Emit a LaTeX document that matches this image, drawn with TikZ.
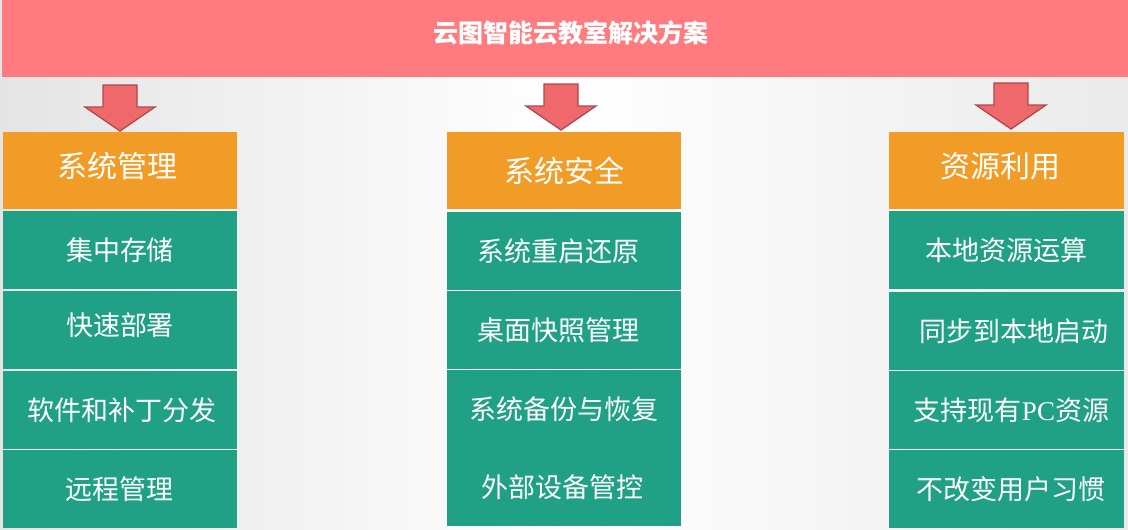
\documentclass[tikz,border=0pt]{standalone}
\usepackage{fontspec}
\setmainfont{Noto Sans CJK SC}
\newfontfamily\pcfont{Liberation Serif}
\definecolor{bannerc}{HTML}{FF7B7F}
\definecolor{hdrc}{HTML}{F29C28}
\definecolor{itmc}{HTML}{20A084}
\definecolor{arrfill}{HTML}{EF686B}
\definecolor{arrline}{HTML}{B0484C}
\definecolor{bgleft}{HTML}{E4E4E4}
\definecolor{bgright}{HTML}{EAEAEA}
\begin{document}
\begin{tikzpicture}[x=1pt,y=-1pt,
  boxbase/.style={inner sep=0pt, outer sep=0pt, text=white, anchor=north west, align=center},
  hdrbox/.style={boxbase, fill=hdrc, minimum width=234pt, minimum height=77pt, font=\fontsize{30}{32}\selectfont},
  itmbox/.style={boxbase, fill=itmc, minimum width=234pt, minimum height=78pt, font=\fontsize{27}{29}\selectfont},
  downarrow/.style={fill=arrfill, draw=arrline, line width=1.3pt, line join=miter},
  dnarrow/.pic={\draw[downarrow] (-17,0)--(17,0)--(17,22)--(35,22)--(0,46)--(-35,22)--(-17,22)--cycle;}]
\useasboundingbox (0,0) rectangle (1128,530);
\shade[left color=bgleft, right color=bgright, middle color=white] (0,0) rectangle (1128,530);
% banner
\node[boxbase, fill=bannerc, minimum width=1126pt, minimum height=77pt,
      font=\bfseries\fontsize{25}{27}\selectfont, text height=20pt, text depth=12pt]
      (banner) at (2,0) {\hspace*{12pt}云图智能云教室解决方案};
% arrows
\pic at (120,85) {dnarrow};
\pic at (561,84) {dnarrow};
\pic at (1011,83) {dnarrow};
% left column
\node[hdrbox, text height=24pt, text depth=10pt] (h1) at (3,132) {系统管理\hspace*{6pt}};
\node[itmbox] (a1) at (3,211) {集中存储};
\node[itmbox, text height=18pt, text depth=8pt] (a2) at (3,291) {快速部署};
\node[itmbox] (a3) at (3,371) {\hspace*{4pt}软件和补丁分发};
\node[itmbox] (a4) at (3,450) {远程管理\hspace*{2pt}};
% middle column
\node[hdrbox] (h2) at (447,132) {系统安全};
\node[itmbox] (b1) at (447,212) {系统重启还原\hspace*{12pt}};
\node[itmbox] (b2) at (447,291) {桌面快照管理\hspace*{12pt}};
\node[itmbox] (b3) at (447,370) {系统备份与恢复};
\node[itmbox] (b4) at (447,448) {外部设备管控\hspace*{4pt}};
% right column
\node[hdrbox, minimum width=235pt, text height=24pt, text depth=10pt] (h3) at (889,132) {\hspace*{-12pt}资源利用};
\node[itmbox, minimum width=235pt] (c1) at (889,211) {本地资源运算};
\node[itmbox, minimum width=235pt] (c2) at (889,292) {\hspace*{14pt}同步到本地启动};
\node[itmbox, minimum width=235pt] (c3) at (889,371) {\hspace*{10pt}支持现有{\pcfont PC}资源};
\node[itmbox, minimum width=235pt] (c4) at (889,450) {\hspace*{8pt}不改变用户习惯};
\end{tikzpicture}
\end{document}
